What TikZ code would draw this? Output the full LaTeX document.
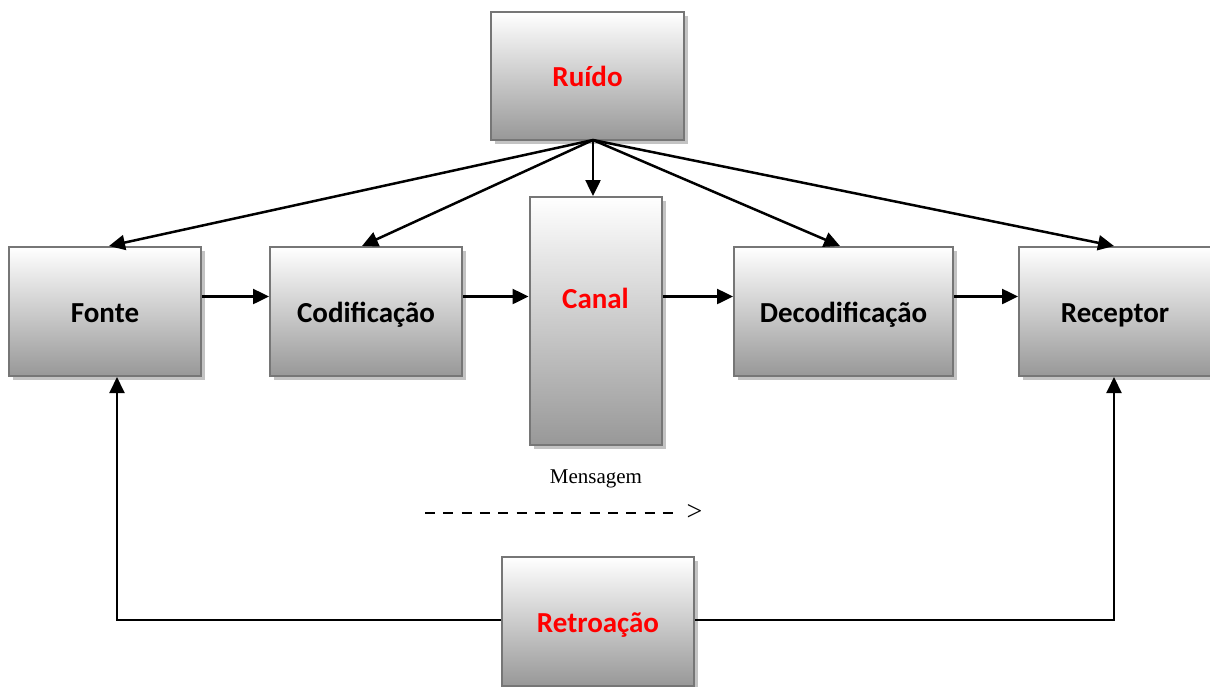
\documentclass[tikz,border=0pt]{standalone}
\usepackage{fontspec}
\setmainfont{Carlito}
\newfontfamily\serifface{Liberation Serif}
\usetikzlibrary{arrows.meta,shadows,calc}
\definecolor{boxbot}{RGB}{152,152,152}
\definecolor{boxline}{RGB}{118,118,118}
\definecolor{shadowgray}{RGB}{195,195,195}
\definecolor{txtred}{RGB}{255,0,0}
\tikzset{
  boxfont/.style={font=\fontsize{29}{33}\selectfont\bfseries, text height=24pt, text depth=2.4pt},
  blk/.style={draw=boxline, line width=2pt, top color=white, bottom color=boxbot,
    drop shadow={shadow xshift=4pt, shadow yshift=-4pt, fill=shadowgray, opacity=1},
    inner sep=0pt, boxfont},
  stdbox/.style={blk, minimum width=192pt, minimum height=129pt},
  redtxt/.style={text=txtred},
  tip/.style={-{Triangle[length=16pt,width=15pt]}},
  arr/.style={line width=2.5pt, tip},
  fb/.style={line width=2pt, tip}
}
\begin{document}
\begin{tikzpicture}[x=1pt,y=-1pt]
\useasboundingbox (0,0) rectangle (1210,686);
% boxes
\node[stdbox, redtxt, minimum width=193pt, minimum height=128pt] (ruido) at (587.5,76) {Ruído};
\node[stdbox] (fonte) at (105,311.5) {Fonte};
\node[stdbox] (codif) at (366,311.5) {Codificação};
\node[blk, minimum width=132pt, minimum height=248pt] (canal) at (595.5,321) {};
\node[boxfont, redtxt, inner sep=0pt] (canaltxt) at (595.5,297.5) {Canal};
\node[stdbox, minimum width=219pt] (decod) at (843.5,311.5) {Decodificação};
\node[stdbox] (recep) at (1115,311.5) {Receptor};
\node[stdbox, redtxt] (retro) at (598,621.5) {Retroação};
% Mensagem
\node[font=\serifface\fontsize{21}{24}\selectfont] (msg) at (596,479) {Mensagem};
\node[font=\serifface\fontsize{28}{30}\selectfont, inner sep=0pt] (gt) at (694.5,512) {>};
\coordinate (dstart) at (425,513);
\draw[line width=1.3pt, dash pattern=on 10pt off 8.3pt] (dstart) -- ($(gt.west)+(-12,1)$);
% noise arrows
\coordinate (rs) at (593,140);
\draw[arr] (rs) -- ($(fonte.north)+(4,0)$);
\draw[arr] (rs) -- ($(codif.north)+(-4,0)$);
\draw[arr] (rs) -- ($(canal.north)+(-2.5,0)$);
\draw[arr] (rs) -- ($(decod.north)+(-3.5,0)$);
\draw[arr] (rs) -- ($(recep.north)+(-1,0)$);
% chain arrows
\draw[arr] ($(fonte.east)+(0,-15)$) -- ($(codif.west)+(0,-15)$);
\draw[arr] ($(codif.east)+(0,-15)$) -- (canal.west |- {$(codif.east)+(0,-15)$});
\draw[arr] (canal.east |- {$(decod.west)+(0,-15)$}) -- ($(decod.west)+(0,-15)$);
\draw[arr] ($(decod.east)+(0,-15)$) -- ($(recep.west)+(0,-15)$);
% feedback
\draw[fb] ($(retro.west)+(0,-1.5)$) -| ($(fonte.south)+(12,0)$);
\draw[fb] ($(retro.east)+(0,-1.5)$) -| ($(recep.south)+(-1,0)$);
\end{tikzpicture}
\end{document}
